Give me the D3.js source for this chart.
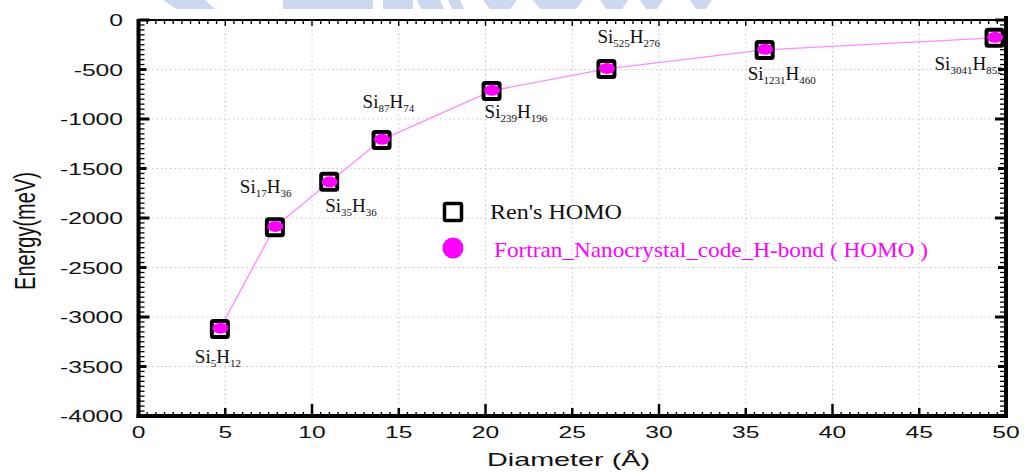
<!DOCTYPE html>
<html>
<head>
<meta charset="utf-8">
<script src="https://cdn.jsdelivr.net/npm/d3@7"></script>
<style>
  html, body { margin: 0; padding: 0; background: #fff; }
  svg { display: block; }
</style>
</head>
<body>
<svg id="chart" width="1024" height="472"></svg>
<script>
// Cluster diameters (Å) and HOMO energies (meV)
const diameters   = [4.69, 7.86, 10.99, 14.01, 20.35, 26.97, 36.09, 49.34];
const renHomo     = [-3121, -2094, -1633, -1212, -717, -495, -303, -179];
const fortranHomo = [-3118, -2090, -1640, -1210, -715, -494, -301, -180];

// Cluster formulas SiₙHₘ
const siCounts = ["5", "17", "35", "87", "239", "525", "1231", "3041"];
const hCounts  = ["12", "36", "36", "74", "196", "276", "460", "852"];

// Tick values
const xTicks = [0, 5, 10, 15, 20, 25, 30, 35, 40, 45, 50];
const yTicks = [0, -500, -1000, -1500, -2000, -2500, -3000, -3500, -4000];

const seriesNames = ["Ren's HOMO", "Fortran_Nanocrystal_code_H-bond ( HOMO )"];

// Where each formula sits relative to its marker (px)
const labelOffsets = [[-25, 34], [-35, -34], [-4, 30], [-19, -32], [-7, 27], [-9, -26], [-17, 30], [-60, 32]];

const svg = d3.select("#chart");
const x = d3.scaleLinear().domain([0, 50]).range([138.5, 1006]);
const y = d3.scaleLinear().domain([-4000, 0]).range([416, 20]);

const MAGENTA = "#ff00ff";
const sans = "'Liberation Sans', Arial, sans-serif";
const serif = "'Liberation Serif', 'Times New Roman', serif";

// faint watermark band along the top edge
const wm = svg.append("g").attr("fill", "#ccd7f0");
[[163, 176, 187, 200], [183, 200, 205, 215], [283, 283, 373, 373], [383, 383, 413, 413],
 [417, 421, 440, 444], [448, 452, 460, 464], [483, 490, 517, 510], [533, 540, 583, 576],
 [600, 606, 628, 622], [640, 646, 663, 657], [690, 696, 712, 706]].forEach(s => {
  wm.append("path").attr("d", `M${s[0]},0 L${s[2]},0 L${s[3]},9 L${s[1]},9 Z`);
});

// dotted grid
const grid = svg.append("g").attr("stroke", "#c8c8c8").attr("stroke-width", 1)
  .attr("stroke-dasharray", "1.5,3");
xTicks.slice(1, -1).forEach(v => grid.append("line")
  .attr("x1", x(v)).attr("x2", x(v)).attr("y1", y(0)).attr("y2", y(-4000)));
yTicks.slice(1, -1).forEach(v => grid.append("line")
  .attr("x1", x(0)).attr("x2", x(50)).attr("y1", y(v)).attr("y2", y(v)));

// frame with inward ticks
const frame = svg.append("g").attr("stroke", "#000");
const xMinor = d3.range(0, 50.01, 0.5);
const yMinor = d3.range(-4000, 0.01, 50);

// top edge
frame.append("line").attr("x1", x(0)).attr("x2", x(50)).attr("y1", y(0)).attr("y2", y(0)).attr("stroke-width", 2);
xMinor.forEach(v => frame.append("line").attr("x1", x(v)).attr("x2", x(v))
  .attr("y1", y(0)).attr("y2", y(0) + (v % 5 === 0 ? 6 : 4)).attr("stroke-width", 1.4));
// bottom edge
xMinor.forEach(v => {
  const len = v % 10 === 0 ? 12 : (v % 5 === 0 ? 8 : 4);
  frame.append("line").attr("x1", x(v)).attr("x2", x(v))
    .attr("y1", y(-4000)).attr("y2", y(-4000) - len).attr("stroke-width", v % 5 === 0 ? 2.5 : 1.4);
});
frame.append("line").attr("x1", x(0) - 2).attr("x2", x(50) + 2).attr("y1", y(-4000)).attr("y2", y(-4000)).attr("stroke-width", 4);
// left and right edges
yMinor.forEach(v => {
  const major = v % 500 === 0;
  const len = v % 1000 === 0 ? 11 : (major ? 8 : 6);
  frame.append("line").attr("x1", x(0)).attr("x2", x(0) + len)
    .attr("y1", y(v)).attr("y2", y(v)).attr("stroke-width", major ? 3 : 1.3);
  frame.append("line").attr("x1", x(50)).attr("x2", x(50) - len)
    .attr("y1", y(v)).attr("y2", y(v)).attr("stroke-width", major ? 3 : 1.3);
});
frame.append("line").attr("x1", x(0)).attr("x2", x(0)).attr("y1", y(0) - 1).attr("y2", y(-4000) + 2).attr("stroke-width", 4);
frame.append("line").attr("x1", x(50)).attr("x2", x(50)).attr("y1", y(0) - 4).attr("y2", y(-4000) + 2).attr("stroke-width", 4);

// tick labels (wide glyphs)
const tl = svg.append("g").attr("font-family", sans).attr("font-size", 17).attr("fill", "#111");
yTicks.forEach(v => tl.append("text")
  .attr("transform", `translate(123,${y(v) + 6}) scale(1.45,1)`)
  .attr("text-anchor", "end").text(v));
xTicks.forEach(v => tl.append("text")
  .attr("transform", `translate(${x(v)},438) scale(1.45,1)`)
  .attr("text-anchor", "middle").text(v));

// axis titles
svg.append("text").attr("font-family", sans).attr("font-size", 20).attr("fill", "#111")
  .attr("transform", "translate(35,231) scale(1.5,1) rotate(-90)")
  .attr("text-anchor", "middle").text("Energy(meV)");
svg.append("text").attr("font-family", sans).attr("font-size", 19).attr("fill", "#111")
  .attr("x", 487).attr("y", 466).attr("textLength", 163).attr("lengthAdjust", "spacingAndGlyphs")
  .text("Diameter (Å)");

// connecting line
const pts = diameters.map((d, i) => [d, fortranHomo[i]]);
svg.append("path").datum(pts)
  .attr("fill", "none").attr("stroke", "#ff8cff").attr("stroke-width", 1.3)
  .attr("d", d3.line().x(d => x(d[0])).y(d => y(d[1])));

// Ren's HOMO: open squares
svg.append("g").selectAll("rect").data(diameters).join("rect")
  .attr("x", (d, i) => x(d) - 8).attr("y", (d, i) => y(renHomo[i]) - 8)
  .attr("width", 16).attr("height", 16).attr("rx", 1.5)
  .attr("fill", "#fff").attr("stroke", "#000").attr("stroke-width", 4);

// Fortran HOMO: filled magenta markers
svg.append("g").selectAll("ellipse").data(diameters).join("ellipse")
  .attr("cx", d => x(d) + 0.5).attr("cy", (d, i) => y(fortranHomo[i]) - 0.5)
  .attr("rx", 8).attr("ry", 5.5).attr("fill", MAGENTA);

// cluster formula labels
const lab = svg.append("g").attr("font-family", serif).attr("fill", "#111");
diameters.forEach((d, i) => {
  const t = lab.append("text")
    .attr("x", x(d) + labelOffsets[i][0]).attr("y", y(renHomo[i]) + labelOffsets[i][1])
    .attr("font-size", 19);
  t.append("tspan").text("Si");
  t.append("tspan").attr("font-size", 11).attr("dy", 4).text(siCounts[i]);
  t.append("tspan").attr("dy", -4).text("H");
  t.append("tspan").attr("font-size", 11).attr("dy", 4).text(hCounts[i]);
});

// legend
const lg = svg.append("g");
lg.append("rect").attr("x", 444.5).attr("y", 203.5).attr("width", 17).attr("height", 17).attr("rx", 1.5)
  .attr("fill", "#fff").attr("stroke", "#000").attr("stroke-width", 3.5);
lg.append("text").attr("x", 490).attr("y", 219).attr("font-family", serif).attr("font-size", 22)
  .attr("fill", "#111").attr("textLength", 132).attr("lengthAdjust", "spacingAndGlyphs").text(seriesNames[0]);
lg.append("circle").attr("cx", 453).attr("cy", 248).attr("r", 10.5).attr("fill", MAGENTA);
lg.append("text").attr("x", 494).attr("y", 257).attr("font-family", serif).attr("font-size", 22)
  .attr("fill", MAGENTA).attr("textLength", 434).attr("lengthAdjust", "spacingAndGlyphs").text(seriesNames[1]);
</script>
</body>
</html>
